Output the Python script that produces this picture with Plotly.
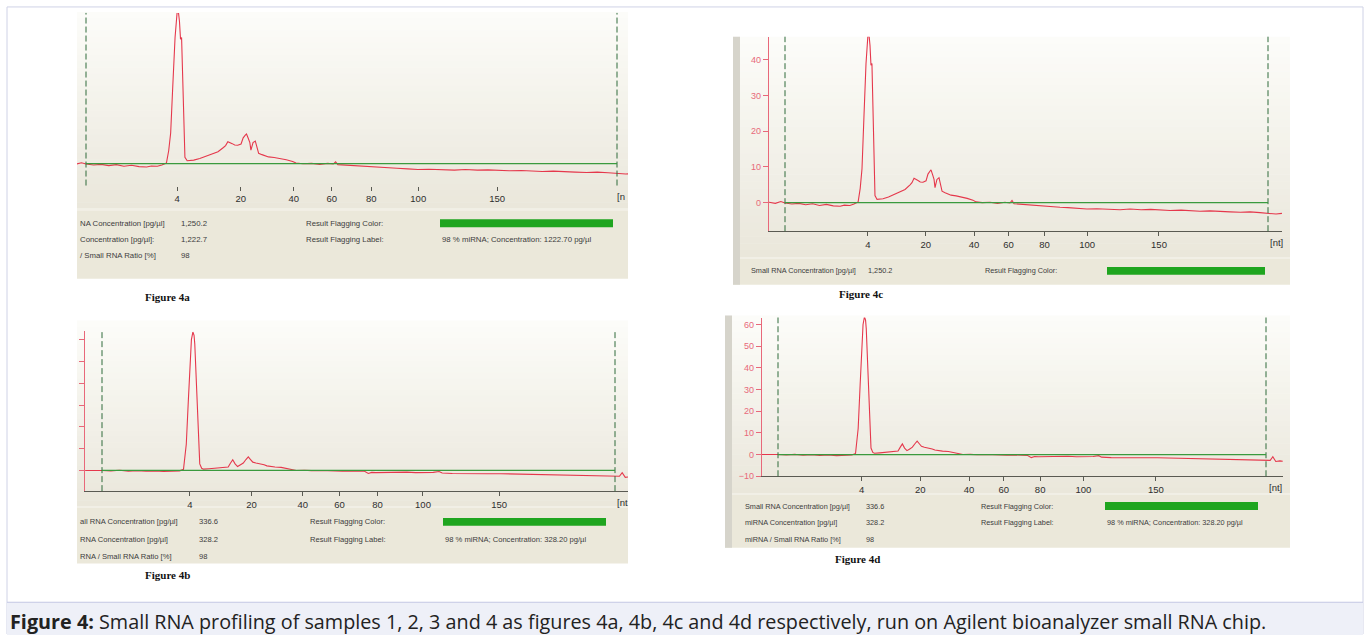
import plotly.graph_objects as go

W, H = 1370, 640

# ---------------- data ----------------
# size-ladder positions on the migration-time axis (s)
LADDER_NT = ["4", "20", "40", "60", "80", "100", "150"]
LADDER_TIME = [46.0, 50.2, 53.7, 56.2, 58.8, 61.9, 67.1]
LOWER_MARKER_TIME = 40.0
UPPER_MARKER_TIME = 75.0
UNIT_LABEL = "[nt]"

# electropherogram, samples 1 / 3 : (time s, fluorescence FU)
PROFILE_13 = [
    (38.84, 0.1), (39.3, -0.2), (39.7, 0.3), (40.0, -0.1), (40.5, -0.4), (41.0, -0.2),
    (41.5, -0.6), (42.0, -0.3), (42.5, -0.8), (43.0, -0.5), (43.5, -0.9), (44.0, -1.0),
    (44.3, -0.7), (44.7, -0.8), (45.0, -0.4), (45.3, 0.2), (45.45, 4.0), (45.58, 9.5),
    (45.72, 24.0), (45.87, 39.0), (46.01, 47.0), (46.1, 46.5), (46.16, 44.0), (46.23, 38.5),
    (46.3, 39.0), (46.38, 22.0), (46.45, 8.0), (46.52, 2.0), (46.67, 0.9), (46.9, 1.0),
    (47.1, 1.1), (47.5, 1.6), (47.9, 2.3), (48.3, 3.0), (48.7, 3.7), (49.06, 5.0),
    (49.2, 5.6), (49.35, 6.8), (49.5, 6.6), (49.64, 6.2), (49.8, 5.8), (50.0, 5.7),
    (50.22, 6.1), (50.36, 8.0), (50.5, 8.8), (50.58, 9.2), (50.7, 7.8), (50.8, 6.5),
    (50.87, 4.2), (51.01, 6.5), (51.16, 7.0), (51.3, 4.3), (51.38, 3.2), (51.6, 2.8),
    (52.03, 2.1), (52.4, 1.9), (52.83, 1.6), (53.2, 1.2), (53.62, 0.7), (53.84, 0.2),
    (54.3, 0.0), (54.86, 0.1), (55.4, -0.2), (55.94, 0.1), (56.3, -0.1), (56.45, 0.6),
    (56.6, -0.3), (57.2, -0.5), (57.75, -0.7), (58.3, -0.8), (58.77, -1.0), (59.4, -1.1),
    (59.93, -1.3), (60.5, -1.4), (61.2, -1.6), (61.88, -1.8), (62.6, -1.7), (63.4, -1.9),
    (64.28, -2.0), (65.0, -1.8), (65.8, -2.0), (66.5, -1.9), (67.1, -2.0), (67.9, -2.2),
    (68.7, -2.1), (69.4, -2.3), (70.07, -2.4), (70.8, -2.3), (71.5, -2.5), (72.25, -2.6),
    (73.0, -2.7), (73.7, -2.6), (74.42, -2.8), (75.0, -3.0), (75.58, -3.2), (76.01, -3.0),
]

# electropherogram, samples 2 / 4 : (time s, fluorescence FU)
PROFILE_24 = [
    (38.85, 0.0), (39.4, 0.1), (40.0, 0.0), (40.6, -0.2), (41.2, 0.1), (41.8, -0.3),
    (42.4, -0.1), (43.0, -0.4), (43.6, -0.2), (44.2, -0.5), (44.8, -0.3), (45.3, -0.2),
    (45.56, 0.5), (45.75, 12.0), (45.89, 32.0), (46.02, 52.0), (46.10, 60.0), (46.2, 63.5),
    (46.28, 62.0), (46.33, 58.0), (46.42, 42.0), (46.48, 30.0), (46.58, 12.0), (46.67, 3.0),
    (46.8, 1.0), (46.92, 0.6), (47.3, 0.8), (47.7, 1.0), (48.1, 1.1), (48.4, 1.2),
    (48.61, 1.6), (48.75, 3.2), (48.92, 4.9), (49.08, 3.0), (49.25, 1.8), (49.45, 2.6),
    (49.64, 3.4), (49.82, 5.0), (49.98, 6.2), (50.12, 5.1), (50.29, 3.8), (50.5, 3.4),
    (50.67, 3.2), (50.9, 2.9), (51.06, 2.6), (51.25, 2.1), (51.45, 1.8), (51.8, 1.6),
    (52.22, 1.4), (52.5, 1.1), (52.74, 0.8), (53.0, 0.4), (53.26, 0.0), (53.8, 0.1),
    (54.28, -0.1), (54.9, 0.0), (55.4, -0.2), (55.85, -0.1), (56.4, -0.3), (56.9, -0.2),
    (57.4, -0.4), (57.91, -0.4), (58.17, -1.4), (58.4, -0.9), (58.68, -1.0), (59.3, -0.9),
    (60.0, -1.1), (60.8, -0.8), (61.4, -1.0), (62.05, -1.1), (62.6, -0.9), (63.0, -0.5),
    (63.21, -1.2), (63.9, -1.4), (64.63, -1.5), (65.4, -1.4), (66.3, -1.5), (67.22, -1.5),
    (68.0, -1.6), (68.9, -1.8), (69.81, -2.0), (70.6, -2.0), (71.5, -2.2), (72.39, -2.3),
    (73.2, -2.5), (74.1, -2.6), (74.97, -2.8), (75.3, -2.7), (75.49, -1.0), (75.6, -2.5),
    (75.7, -3.2), (76.0, -2.9), (76.2, -3.1),
]

FLAG_FIELDS = ["Result Flagging Color:", "Result Flagging Label:"]

A_FIELDS = ["NA Concentration [pg/µl]", "Concentration [pg/µl]:", "/ Small RNA Ratio [%]"]
A_VALUES = ["1,250.2", "1,222.7", "98"]
A_FLAG = "98 % miRNA; Concentration: 1222.70 pg/µl"

B_FIELDS = ["all RNA Concentration [pg/µl]", "RNA Concentration [pg/µl]", "RNA / Small RNA Ratio [%]"]
B_VALUES = ["336.6", "328.2", "98"]
B_FLAG = "98 % miRNA; Concentration: 328.20 pg/µl"

C_FIELDS = ["Small RNA Concentration [pg/µl]"]
C_VALUES = ["1,250.2"]

D_FIELDS = ["Small RNA Concentration [pg/µl]", "miRNA Concentration [pg/µl]", "miRNA / Small RNA Ratio [%]"]
D_VALUES = ["336.6", "328.2", "98"]
D_FLAG = "98 % miRNA; Concentration: 328.20 pg/µl"

Y_TICKS_C = [0, 10, 20, 30, 40]
Y_TICKS_BD = [-10, 0, 10, 20, 30, 40, 50, 60]

CAPTION = ("<b>Figure 4:</b> Small RNA profiling of samples 1, 2, 3 and 4 as figures 4a, 4b, 4c "
           "and 4d respectively, run on Agilent bioanalyzer small RNA chip.")

# ---------------- layout (pixel geometry / style) ----------------
PANELS = [
    dict(tag="a", profile=PROFILE_13, title="Figure 4a", title_xy=(143, 299),
         bg=(77, 628, 12, 210), info=(77, 628, 212, 281),
         plot=(77, 628, 13, 187), dash=(86, 617), yrange=(-6.75, 46.6),
         yaxis_show=False, yticks=None, yticklabels=False, xline=False,
         fields=A_FIELDS, values=A_VALUES, flag=A_FLAG,
         rows=[225, 241, 258], col=(78, 179, 304, 440), bar=(440, 613),
         unit="[n", unit_x=621, fsize=7.8, left_strip=None),
    dict(tag="b", profile=PROFILE_24, title="Figure 4b", title_xy=(143, 580),
         bg=(77, 628, 323, 510), info=(77, 628, 512, 568),
         plot=(85, 628, 334, 495), dash=(102, 615), yrange=(-9.5, 63.8),
         yaxis_show=True, yticks=Y_TICKS_BD, yticklabels=False, xline=True,
         fields=B_FIELDS, values=B_VALUES, flag=B_FLAG,
         rows=[526, 544, 561], col=(78, 197, 308, 443), bar=(443, 606),
         unit="[nt", unit_x=622, fsize=7.6, left_strip=None),
    dict(tag="c", profile=PROFILE_13, title="Figure 4c", title_xy=(837, 296),
         bg=(733, 1290, 37, 259), info=(733, 1290, 261, 287),
         plot=(769, 1282, 37, 233), dash=(785, 1268), yrange=(-8, 46.5),
         yaxis_show=True, yticks=Y_TICKS_C, yticklabels=True, xline=True,
         fields=C_FIELDS, values=C_VALUES, flag=None,
         rows=[273], col=(749, 866, 983, 1107), bar=(1107, 1265),
         unit=UNIT_LABEL, unit_x=1276, fsize=7.3, left_strip=(733, 740)),
    dict(tag="d", profile=PROFILE_24, title="Figure 4d", title_xy=(833, 563),
         bg=(725, 1290, 318, 497), info=(725, 1290, 499, 552),
         plot=(762, 1283, 320, 480), dash=(778, 1266), yrange=(-10, 63.2),
         yaxis_show=True, yticks=Y_TICKS_BD, yticklabels=True, xline=True,
         fields=D_FIELDS, values=D_VALUES, flag=D_FLAG,
         rows=[510, 527, 544], col=(743, 864, 979, 1105), bar=(1105, 1258),
         unit=UNIT_LABEL, unit_x=1275, fsize=7.3, left_strip=(725, 732)),
]

RED = "#e5384c"
AX_RED = "#e8687a"
GREEN_LINE = "#3a9a3e"
DASH_GREEN = "#2f6b3a"
AXIS_GRAY = "#5a5a52"
TEXT_GRAY = "#3c3c3c"
BAR_GREEN = "#1fa51f"
INFO_BG = "#ebe8da"
FONT = "Liberation Sans, Arial, sans-serif"


def fx(px):
    return px / W


def fy(py):
    return 1 - py / H


def blend(c0, c1, f):
    return "rgb(%d,%d,%d)" % tuple(round(a + (b - a) * f) for a, b in zip(c0, c1))


fig = go.Figure()
shapes = []
annotations = []

# outer frame + caption band
shapes.append(dict(type="rect", xref="paper", yref="paper", x0=fx(7), x1=fx(1363),
                   y0=fy(639), y1=fy(7), line=dict(color="#cfd2e6", width=1),
                   fillcolor="rgba(0,0,0,0)", layer="below"))
shapes.append(dict(type="rect", xref="paper", yref="paper", x0=fx(7), x1=fx(1363),
                   y0=fy(640), y1=fy(607), line=dict(width=0),
                   fillcolor="#eef0f8", layer="below"))
shapes.append(dict(type="line", xref="paper", yref="paper", x0=fx(7), x1=fx(1363),
                   y0=fy(607), y1=fy(607), line=dict(color="#c3c7e3", width=1.2),
                   layer="below"))
annotations.append(dict(text=CAPTION, xref="paper", yref="paper", x=fx(8), y=fy(626),
                        xanchor="left", yanchor="middle", showarrow=False,
                        font=dict(family="Open Sans, Noto Sans, sans-serif", size=19.8,
                                  color="#222222")))

TOP_C = (252, 252, 249)
BOT_C = (234, 231, 219)
NSTRIP = 32

for i, p in enumerate(PANELS):
    k = "" if i == 0 else str(i + 1)
    xa, ya = "x" + k, "y" + k
    bx0, bx1, by0, by1 = p["bg"]
    # gradient chart background
    step = (by1 - by0) / NSTRIP
    for s in range(NSTRIP):
        shapes.append(dict(type="rect", xref="paper", yref="paper",
                           x0=fx(bx0), x1=fx(bx1), y0=fy(by0 + (s + 1) * step + 0.5),
                           y1=fy(by0 + s * step), line=dict(width=0),
                           fillcolor=blend(TOP_C, BOT_C, s / (NSTRIP - 1)), layer="below"))
    ix0, ix1, iy0, iy1 = p["info"]
    shapes.append(dict(type="rect", xref="paper", yref="paper", x0=fx(ix0), x1=fx(ix1),
                       y0=fy(iy1), y1=fy(iy0), line=dict(width=0), fillcolor=INFO_BG,
                       layer="below"))
    shapes.append(dict(type="rect", xref="paper", yref="paper", x0=fx(bx0), x1=fx(bx1),
                       y0=fy(iy0), y1=fy(by1), line=dict(width=0), fillcolor="#f1efe6",
                       layer="below"))
    if p["left_strip"]:
        l0, l1 = p["left_strip"]
        shapes.append(dict(type="rect", xref="paper", yref="paper", x0=fx(l0), x1=fx(l1),
                           y0=fy(iy1), y1=fy(by0), line=dict(width=0),
                           fillcolor="#d6d4cb", layer="below"))

    # axes
    pl, pr, pt, pb = p["plot"]
    dl, dr = p["dash"]
    scale = (dr - dl) / (UPPER_MARKER_TIME - LOWER_MARKER_TIME)
    xmin = LOWER_MARKER_TIME + (pl - dl) / scale
    xmax = LOWER_MARKER_TIME + (pr - dl) / scale
    fig.layout["xaxis" + k] = dict(
        domain=[fx(pl), fx(pr)], range=[xmin, xmax], anchor=ya,
        showgrid=False, zeroline=False, showline=p["xline"], linecolor=AXIS_GRAY,
        linewidth=1, ticks="outside", ticklen=4, tickcolor=AXIS_GRAY,
        tickvals=LADDER_TIME, ticktext=LADDER_NT,
        tickfont=dict(family=FONT, size=9.5, color="#2e2e2e"), fixedrange=True)
    fig.layout["yaxis" + k] = dict(
        domain=[fy(pb), fy(pt)], range=list(p["yrange"]), anchor=xa,
        showgrid=False, zeroline=False, visible=p["yaxis_show"],
        showline=True, linecolor=AX_RED, linewidth=1.3,
        ticks="outside", ticklen=5, tickcolor=AX_RED,
        tickvals=p["yticks"], showticklabels=p["yticklabels"],
        tickfont=dict(family=FONT, size=9, color=AX_RED), fixedrange=True)

    # markers and baseline
    for t in (LOWER_MARKER_TIME, UPPER_MARKER_TIME):
        shapes.append(dict(type="line", xref=xa, yref=ya + " domain", x0=t, x1=t,
                           y0=0, y1=1, line=dict(color=DASH_GREEN, width=1, dash="6px,3px")))
    shapes.append(dict(type="line", xref=xa, yref=ya, x0=LOWER_MARKER_TIME,
                       x1=UPPER_MARKER_TIME, y0=0, y1=0,
                       line=dict(color=GREEN_LINE, width=1.2)))

    # trace
    ts = [q[0] for q in p["profile"]]
    vs = [q[1] for q in p["profile"]]
    fig.add_trace(go.Scatter(x=ts, y=vs, mode="lines", xaxis=xa, yaxis=ya,
                             line=dict(color=RED, width=1.1), showlegend=False,
                             hoverinfo="skip"))

    # unit label
    annotations.append(dict(text=p["unit"], xref="paper", yref="paper", x=fx(p["unit_x"]),
                            y=fy(pb + 11), xanchor="center", yanchor="middle",
                            showarrow=False,
                            font=dict(family=FONT, size=9.5, color="#2e2e2e")))

    # info box
    c0, c1, c2, c3 = p["col"]
    fs = p["fsize"]
    for j, (fld, val) in enumerate(zip(p["fields"], p["values"])):
        yy = fy(p["rows"][j])
        annotations.append(dict(text=fld, xref="paper", yref="paper", x=fx(c0), y=yy,
                                xanchor="left", yanchor="middle", showarrow=False,
                                font=dict(family=FONT, size=fs, color=TEXT_GRAY)))
        annotations.append(dict(text=val, xref="paper", yref="paper", x=fx(c1), y=yy,
                                xanchor="left", yanchor="middle", showarrow=False,
                                font=dict(family=FONT, size=fs, color=TEXT_GRAY)))
    nflag = 2 if p["flag"] else 1
    for j in range(nflag):
        annotations.append(dict(text=FLAG_FIELDS[j], xref="paper", yref="paper", x=fx(c2),
                                y=fy(p["rows"][j]), xanchor="left", yanchor="middle",
                                showarrow=False,
                                font=dict(family=FONT, size=fs, color=TEXT_GRAY)))
    r0 = p["rows"][0]
    shapes.append(dict(type="rect", xref="paper", yref="paper", x0=fx(p["bar"][0]),
                       x1=fx(p["bar"][1]), y0=fy(r0 + 4), y1=fy(r0 - 4),
                       line=dict(width=0), fillcolor=BAR_GREEN))
    if p["flag"]:
        annotations.append(dict(text=p["flag"], xref="paper", yref="paper", x=fx(c3),
                                y=fy(p["rows"][1]), xanchor="left", yanchor="middle",
                                showarrow=False,
                                font=dict(family=FONT, size=fs, color=TEXT_GRAY)))

    # panel title
    tx, ty = p["title_xy"]
    annotations.append(dict(text="<b>%s</b>" % p["title"], xref="paper", yref="paper",
                            x=fx(tx), y=fy(ty), xanchor="left", yanchor="middle",
                            showarrow=False,
                            font=dict(family="Liberation Serif, Times New Roman, serif",
                                      size=11, color="#111111")))

fig.update_layout(width=W, height=H, margin=dict(l=0, r=0, t=0, b=0),
                  paper_bgcolor="white", plot_bgcolor="rgba(0,0,0,0)",
                  shapes=shapes, annotations=annotations, showlegend=False)

fig.write_html("out.html", config={"displayModeBar": False},
               post_script="document.body.style.margin='0';"
                           "document.documentElement.style.overflow='hidden';")
